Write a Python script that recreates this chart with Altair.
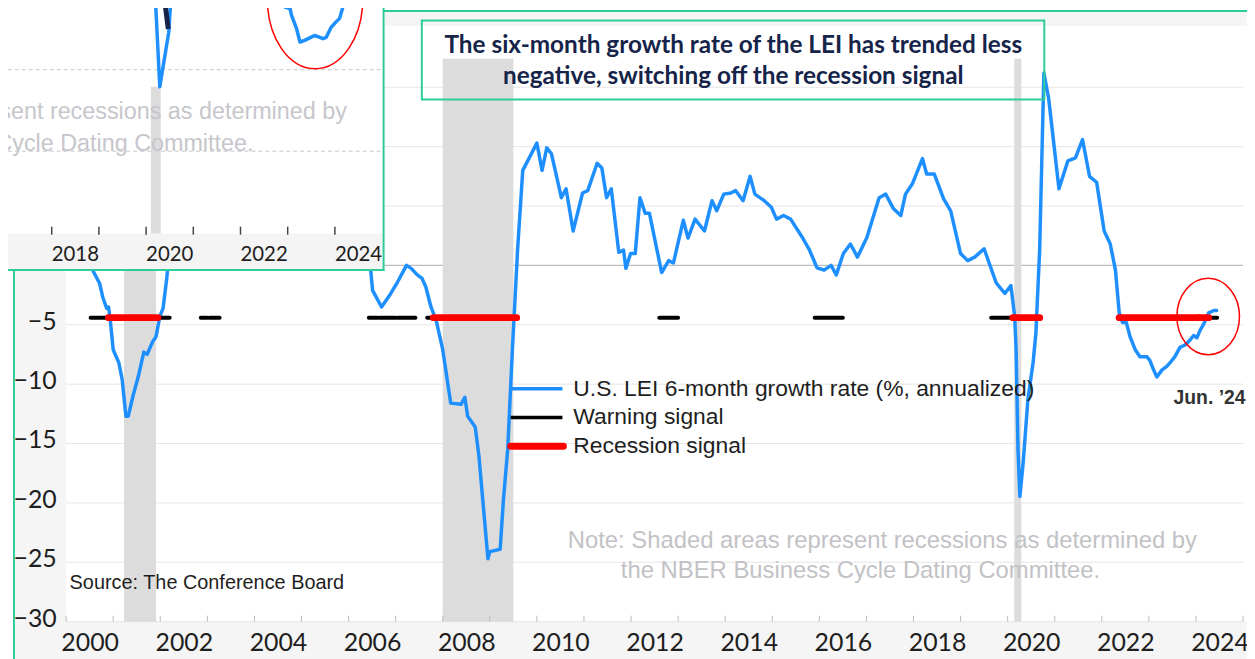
import altair as alt
import pandas as pd

# ---------------- data ----------------
# U.S. LEI 6-month growth rate (% annualized): (decimal year, value)
LEI = [
    (2000.00, 1.8), (2000.25, 1.0), (2000.50, 0.2), (2000.59, -0.6), (2000.71, -1.5), (2000.78, -2.7),
    (2000.86, -3.6), (2000.90, -3.5), (2000.93, -4.3), (2001.00, -7.1), (2001.12, -8.2), (2001.19, -9.6),
    (2001.27, -12.7), (2001.32, -12.7), (2001.42, -11.0), (2001.53, -9.4), (2001.65, -7.3), (2001.72, -7.5),
    (2001.84, -6.4), (2001.91, -6.0), (2001.99, -4.3), (2002.06, -3.6), (2002.14, -1.0), (2002.18, 0.7),
    (2002.30, 3.0), (2002.50, 2.2), (2002.70, 1.0), (2002.90, 0.2), (2003.10, 0.0), (2003.30, 1.2),
    (2003.50, 4.5), (2003.70, 7.5), (2003.90, 8.8), (2004.10, 8.0), (2004.40, 6.0), (2004.70, 3.0),
    (2005.00, 2.0), (2005.30, 1.2), (2005.60, 2.5), (2005.90, 2.0), (2006.10, 1.0), (2006.30, 0.4),
    (2006.47, -0.4), (2006.51, -2.1), (2006.70, -3.5), (2006.89, -2.4), (2007.04, -1.4), (2007.23, 0.0),
    (2007.33, -0.25), (2007.46, -0.8), (2007.56, -1.1), (2007.64, -1.8), (2007.75, -3.5), (2007.86, -4.6),
    (2008.00, -7.1), (2008.17, -11.6), (2008.39, -11.7), (2008.47, -11.1), (2008.53, -12.7), (2008.69, -13.6),
    (2008.77, -16.1), (2008.96, -24.7), (2009.00, -24.1), (2009.22, -23.9), (2009.29, -19.7), (2009.38, -15.5),
    (2009.48, -7.1), (2009.59, 1.3), (2009.70, 8.0), (2010.00, 10.3), (2010.11, 8.0), (2010.21, 9.9),
    (2010.31, 9.4), (2010.52, 5.7), (2010.62, 6.45), (2010.77, 2.9), (2010.97, 6.1), (2011.08, 6.3),
    (2011.28, 8.6), (2011.38, 8.2), (2011.48, 5.7), (2011.58, 6.45), (2011.74, 1.1), (2011.84, 1.3),
    (2011.89, -0.25), (2011.99, 1.0), (2012.09, 1.0), (2012.19, 5.7), (2012.30, 4.4), (2012.39, 4.4),
    (2012.65, -0.6), (2012.80, 0.4), (2012.90, 0.2), (2013.11, 3.8), (2013.21, 2.3), (2013.36, 3.9),
    (2013.56, 2.9), (2013.72, 5.45), (2013.82, 4.6), (2013.97, 6.0), (2014.12, 6.1), (2014.22, 6.3),
    (2014.38, 5.45), (2014.53, 7.5), (2014.63, 6.0), (2014.83, 5.45), (2014.98, 4.9), (2015.09, 3.9),
    (2015.24, 4.2), (2015.39, 3.9), (2015.64, 2.35), (2015.79, 1.3), (2015.95, -0.2), (2016.10, -0.4),
    (2016.25, 0.0), (2016.36, -0.8), (2016.51, 1.0), (2016.66, 1.8), (2016.81, 0.7), (2017.01, 2.35),
    (2017.27, 5.7), (2017.41, 6.0), (2017.57, 4.8), (2017.73, 4.2), (2017.83, 6.0), (2017.98, 6.9),
    (2018.19, 9.0), (2018.28, 7.7), (2018.44, 7.7), (2018.64, 5.6), (2018.79, 4.6), (2019.00, 1.0),
    (2019.15, 0.4), (2019.30, 0.7), (2019.50, 1.4), (2019.76, -1.5), (2019.94, -2.35), (2020.07, -1.7),
    (2020.15, -4.35), (2020.18, -7.1), (2020.22, -15.5), (2020.26, -19.45), (2020.33, -16.6), (2020.43, -11.3),
    (2020.54, -8.2), (2020.60, -5.7), (2020.68, 1.3), (2020.77, 16.2), (2020.87, 14.1), (2021.09, 6.45),
    (2021.28, 8.8), (2021.44, 9.05), (2021.59, 10.6), (2021.74, 7.5), (2021.89, 7.0), (2022.05, 2.9),
    (2022.18, 1.8), (2022.29, -0.4), (2022.37, -4.0), (2022.44, -4.8), (2022.52, -4.8), (2022.60, -6.0),
    (2022.71, -7.1), (2022.81, -7.7), (2022.96, -7.7), (2023.02, -8.0), (2023.10, -8.8), (2023.17, -9.4),
    (2023.28, -8.8), (2023.38, -8.5), (2023.45, -8.2), (2023.55, -7.7), (2023.66, -6.9), (2023.77, -6.7),
    (2023.87, -6.3), (2023.95, -5.9), (2024.02, -6.1), (2024.09, -5.45), (2024.17, -4.9), (2024.27, -4.0),
    (2024.38, -3.8), (2024.44, -3.8),
]
lei_year = [p[0] for p in LEI]
lei_value = [p[1] for p in LEI]

SIGNAL_LEVEL = -4.4
warn_start = [2000.52, 2001.95, 2002.86, 2003.04, 2006.43, 2006.66, 2007.04, 2007.67, 2012.60, 2015.90, 2019.65, 2024.27]
warn_end = [2000.90, 2002.20, 2003.00, 2003.26, 2006.62, 2007.00, 2007.42, 2007.83, 2013.00, 2016.50, 2020.10, 2024.45]
recsig_start = [2000.90, 2007.80, 2020.11, 2022.37, 2024.07]
recsig_end = [2001.95, 2009.57, 2020.68, 2024.05, 2024.27]

nber_start = [2001.23, 2008.00, 2020.14]
nber_end = [2001.91, 2009.50, 2020.29]

grid_values = [-30, -25, -20, -15, -10, -5, 5, 10, 15]
y_label_values = [-30, -25, -20, -15, -10, -5]
x_tick_years = list(range(2000, 2026))
x_label_years = list(range(2000, 2025, 2))

highlight_year, highlight_value = 2024.26, -4.3

# inset (cropped view of a second chart, 2016-2024)
INSET_BLUE = [
    ("a", 2019.95, 22.0), ("a", 2020.20, 18.3), ("a", 2020.29, 7.9), ("a", 2020.48, 14.6), ("a", 2020.56, 22.0),
    ("b", 2022.80, 22.0), ("b", 2022.91, 18.3), ("b", 2022.94, 17.7), ("b", 2023.05, 17.5), ("b", 2023.08, 16.7),
    ("b", 2023.19, 15.0), ("b", 2023.26, 13.4), ("b", 2023.36, 13.6), ("b", 2023.50, 14.0), ("b", 2023.57, 14.2),
    ("b", 2023.75, 13.8), ("b", 2023.82, 14.0), ("b", 2023.92, 15.2), ("b", 2024.03, 15.9), ("b", 2024.10, 16.3),
    ("b", 2024.20, 18.3), ("b", 2024.28, 22.0),
]
INSET_NAVY = [(2020.36, 20.0), (2020.47, 15.0)]
inset_grid = [0, 10]
inset_shade = (2020.10, 2020.31, 7.9, -10.1)
inset_ticks = list(range(2016, 2025))
inset_label_years = [2016, 2018, 2020, 2022, 2024]
inset_circle = (2023.58, 18.66)

TITLE_1 = "The six-month growth rate of the LEI has trended less"
TITLE_2 = "negative, switching off the recession signal"
LEGEND = ["U.S. LEI 6-month growth rate (%, annualized)", "Warning signal", "Recession signal"]
NOTE_1 = "Note: Shaded areas represent recessions as determined by"
NOTE_2 = "the NBER Business Cycle Dating Committee."
SOURCE = "Source: The Conference Board"
LAST_LABEL = "Jun. \u201924"

# ---------------- layout ----------------
BLUE = "#1E8FFF"
TEAL = "#2ECC9A"
NAVY = "#16244A"
SHADE = "#DCDCDC"
BAND = "#F5F5F5"
NOTE_GRAY = "#C2C2C6"
TXT = "#1E1E1E"

TOTAL_W = 1247
TOTAL_H = 651
SX = 1.0
SY = 1.0


def cx(r):
    return (r - 8) * SX


def cy(r):
    return (r - 8) * SY


PAD_L = cx(66.5)
PAD_T = cy(57)
W = cx(1251) - PAD_L
H = cy(623.5) - PAD_T
PAD_R = TOTAL_W - cx(1251)
PAD_B = TOTAL_H - cy(623.5)


def px(r):
    return cx(r) - PAD_L


def py(r):
    return cy(r) - PAD_T


xs = alt.Scale(domain=[2000, 2025], range=[0, W], nice=False, zero=False)
ys = alt.Scale(domain=[-30, 17.4], range=[H, 0], nice=False, zero=False)
ixs = alt.Scale(domain=[2018, 2020], range=[px(52), px(147)], nice=False, zero=False)
iys = alt.Scale(domain=[0, 10], range=[py(150), py(68)], nice=False, zero=False)

one = pd.DataFrame({"k": [0]})


def box(x1, y1, x2, y2, **kw):
    return alt.Chart(one).mark_rect(**kw).encode(
        x=alt.value(px(x1)), x2=alt.value(px(x2)), y=alt.value(py(y1)), y2=alt.value(py(y2)))


def hline(x1, x2, y, **kw):
    return alt.Chart(one).mark_rule(**kw).encode(
        x=alt.value(px(x1)), x2=alt.value(px(x2)), y=alt.value(py(y)))


def vline(x, y1, y2, **kw):
    return alt.Chart(one).mark_rule(**kw).encode(
        x=alt.value(px(x)), y=alt.value(py(y1)), y2=alt.value(py(y2)))


def label(text, x, y, **kw):
    return alt.Chart(pd.DataFrame({"t": [text]})).mark_text(baseline="middle", **kw).encode(
        x=alt.value(px(x)), y=alt.value(py(y)), text="t:N")


def ellipse_path(a, b=1.0):
    k = 0.5523
    return (f"M {a},0 C {a},{k*b} {k*a},{b} 0,{b} C {-k*a},{b} {-a},{k*b} {-a},0 "
            f"C {-a},{-k*b} {-k*a},{-b} 0,{-b} C {k*a},{-b} {a},{-k*b} {a},0 Z")


layers = []

# background bands
layers.append(box(15, 255, 66.5, 625, color=BAND))
layers.append(box(15, 623.5, 1262, 670, color=BAND))
layers.append(box(387, 10, 1262, 24, color=BAND))

# grid lines
layers.append(alt.Chart(pd.DataFrame({"v": grid_values})).mark_rule(color="#E6E6E6", strokeWidth=1).encode(
    y=alt.Y("v:Q", scale=ys, axis=None), x=alt.value(0), x2=alt.value(W)))
layers.append(alt.Chart(pd.DataFrame({"v": [0]})).mark_rule(color="#BDBDBD", strokeWidth=1.2).encode(
    y=alt.Y("v:Q", scale=ys, axis=None), x=alt.value(0), x2=alt.value(W)))

# NBER recessions
layers.append(alt.Chart(pd.DataFrame({"s": nber_start, "e": nber_end})).mark_rect(color=SHADE).encode(
    x=alt.X("s:Q", scale=xs, axis=None), x2="e:Q", y=alt.value(0), y2=alt.value(H)))

# x ticks
layers.append(alt.Chart(pd.DataFrame({"yr": x_tick_years})).mark_rule(color="#BBBBBB", strokeWidth=1).encode(
    x=alt.X("yr:Q", scale=xs, axis=None), y=alt.value(H - 6), y2=alt.value(H)))

# LEI line with axes
lei_df = pd.DataFrame({"t": lei_year, "v": lei_value})
layers.append(alt.Chart(lei_df).mark_line(color=BLUE, strokeWidth=3.5, strokeJoin="round", strokeCap="round").encode(
    x=alt.X("t:Q", scale=xs, axis=alt.Axis(
        orient="bottom", values=[y + 0.5 for y in x_label_years], labelExpr="'' + floor(datum.value)",
        ticks=False, tickSize=0, domain=False, grid=False, title=None, labelFont="Lato", labelFontSize=25,
        labelColor=TXT, labelPadding=(645 - 623.5) * SY, labelBaseline="middle", labelFlush=False,
        labelOverlap=False, zindex=1)),
    y=alt.Y("v:Q", scale=ys, axis=alt.Axis(
        orient="left", values=y_label_values, ticks=False, tickSize=0, domain=False, grid=False, title=None,
        labelFont="Lato", labelFontSize=25, labelColor=TXT, labelPadding=10, labelOffset=-3.5,
        labelOverlap=False, zindex=1)),
))

# signals
layers.append(alt.Chart(pd.DataFrame({"s": warn_start, "e": warn_end, "lvl": SIGNAL_LEVEL})).mark_rule(
    color="black", strokeWidth=4, strokeCap="round").encode(
    x=alt.X("s:Q", scale=xs, axis=None), x2="e:Q", y=alt.Y("lvl:Q", scale=ys, axis=None)))
layers.append(alt.Chart(pd.DataFrame({"s": recsig_start, "e": recsig_end, "lvl": SIGNAL_LEVEL})).mark_rule(
    color="#FF0000", strokeWidth=7, strokeCap="round").encode(
    x=alt.X("s:Q", scale=xs, axis=None), x2="e:Q", y=alt.Y("lvl:Q", scale=ys, axis=None)))

# highlight ellipse
r_main = 38.5 * SY
layers.append(alt.Chart(pd.DataFrame({"t": [highlight_year], "v": [highlight_value]})).mark_point(
    shape=ellipse_path(31.5 * SX / r_main), size=(2 * r_main) ** 2, filled=False, color="#FF0000",
    strokeWidth=1.5, opacity=1).encode(
    x=alt.X("t:Q", scale=xs, axis=None), y=alt.Y("v:Q", scale=ys, axis=None)))

# texts
layers.append(label(LAST_LABEL, 1181, 398, align="left", font="Liberation Sans", fontSize=19.5,
                    fontWeight="bold", color="#333333"))
layers.append(label(NOTE_1, 888, 542, align="center", font="Liberation Sans", fontSize=24, color=NOTE_GRAY))
layers.append(label(NOTE_2, 866, 573, align="center", font="Liberation Sans", fontSize=24, color=NOTE_GRAY))
layers.append(label(SOURCE, 70, 585, align="left", font="Liberation Sans", fontSize=20, color=TXT))

# legend
layers.append(hline(514, 566, 389, color=BLUE, strokeWidth=3.5))
layers.append(hline(514, 566, 418, color="black", strokeWidth=3.5))
layers.append(hline(514, 567, 447, color="#FF0000", strokeWidth=7, strokeCap="round"))
for txt, yy in zip(LEGEND, [389, 418, 447]):
    layers.append(label(txt, 577, yy, align="left", font="Liberation Sans", fontSize=23, color=TXT))

# ---------------- inset ----------------
layers.append(box(-20, -20, 386, 269.5, color="white"))
layers.append(box(-20, 233, 386, 268.5, color="#F4F4F4"))
layers.append(alt.Chart(pd.DataFrame({"v": inset_grid})).mark_rule(
    color="#C8C8C8", strokeWidth=1, strokeDash=[4, 3]).encode(
    y=alt.Y("v:Q", scale=iys, axis=None), x=alt.value(px(-20)), x2=alt.value(px(383))))
layers.append(alt.Chart(pd.DataFrame({"s": [inset_shade[0]], "e": [inset_shade[1]],
                                      "top": [inset_shade[2]], "bot": [inset_shade[3]]})).mark_rect(color=SHADE).encode(
    x=alt.X("s:Q", scale=ixs, axis=None), x2="e:Q", y=alt.Y("top:Q", scale=iys, axis=None), y2="bot:Q"))
layers.append(label(NOTE_1, 349, 111, align="right", font="Liberation Sans", fontSize=23.5, color="#C6C6CC"))
layers.append(label(NOTE_2, 255, 143, align="right", font="Liberation Sans", fontSize=23.5, color="#C6C6CC"))
layers.append(alt.Chart(pd.DataFrame(INSET_BLUE, columns=["seg", "t", "v"])).mark_line(
    color=BLUE, strokeWidth=3.5, strokeJoin="round").encode(
    x=alt.X("t:Q", scale=ixs, axis=None), y=alt.Y("v:Q", scale=iys, axis=None), detail="seg:N"))
layers.append(alt.Chart(pd.DataFrame(INSET_NAVY, columns=["t", "v"])).mark_line(
    color=NAVY, strokeWidth=5).encode(
    x=alt.X("t:Q", scale=ixs, axis=None), y=alt.Y("v:Q", scale=iys, axis=None)))
layers.append(alt.Chart(pd.DataFrame({"yr": inset_ticks})).mark_rule(color="#444444", strokeWidth=1.5).encode(
    x=alt.X("yr:Q", scale=ixs, axis=None), y=alt.value(py(226)), y2=alt.value(py(234))))
layers.append(alt.Chart(pd.DataFrame({"yr": [y + 0.5 for y in inset_label_years],
                                      "lab": [str(y) for y in inset_label_years]})).mark_text(
    font="Lato", fontSize=20.5, color=TXT, baseline="middle", align="center").encode(
    x=alt.X("yr:Q", scale=ixs, axis=None), y=alt.value(py(255)), text="lab:N"))
r_in = 70 * SY
layers.append(alt.Chart(pd.DataFrame({"t": [inset_circle[0]], "v": [inset_circle[1]]})).mark_point(
    shape=ellipse_path(48 * SX / r_in), size=(2 * r_in) ** 2, filled=False, color="#FF0000",
    strokeWidth=1.5, opacity=1).encode(
    x=alt.X("t:Q", scale=ixs, axis=None), y=alt.Y("v:Q", scale=iys, axis=None)))

# frame lines
layers.append(vline(386, -20, 270, color=TEAL, strokeWidth=2))
layers.append(hline(-20, 387, 269.5, color=TEAL, strokeWidth=2))
layers.append(hline(386, 1262, 9, color=TEAL, strokeWidth=2))
layers.append(vline(14, 269, 670, color=TEAL, strokeWidth=2))

# title box
layers.append(box(424.5, 18.5, 1051, 98, fillOpacity=0, stroke=TEAL, strokeWidth=2))
layers.append(label(TITLE_1, 738, 44, align="center", font="Lato", fontSize=24.5, fontWeight="bold", color=NAVY))
layers.append(label(TITLE_2, 738, 75, align="center", font="Lato", fontSize=24.5, fontWeight="bold", color=NAVY))

chart = alt.layer(*layers).resolve_scale(x="independent", y="independent").properties(
    width=W, height=H,
    padding={"left": PAD_L, "top": PAD_T, "right": PAD_R, "bottom": PAD_B},
    autosize=alt.AutoSizeParams(type="none"),
    background="white",
).configure_view(strokeWidth=0)

chart.save("out.html", embed_options={"renderer": "svg", "actions": False})
